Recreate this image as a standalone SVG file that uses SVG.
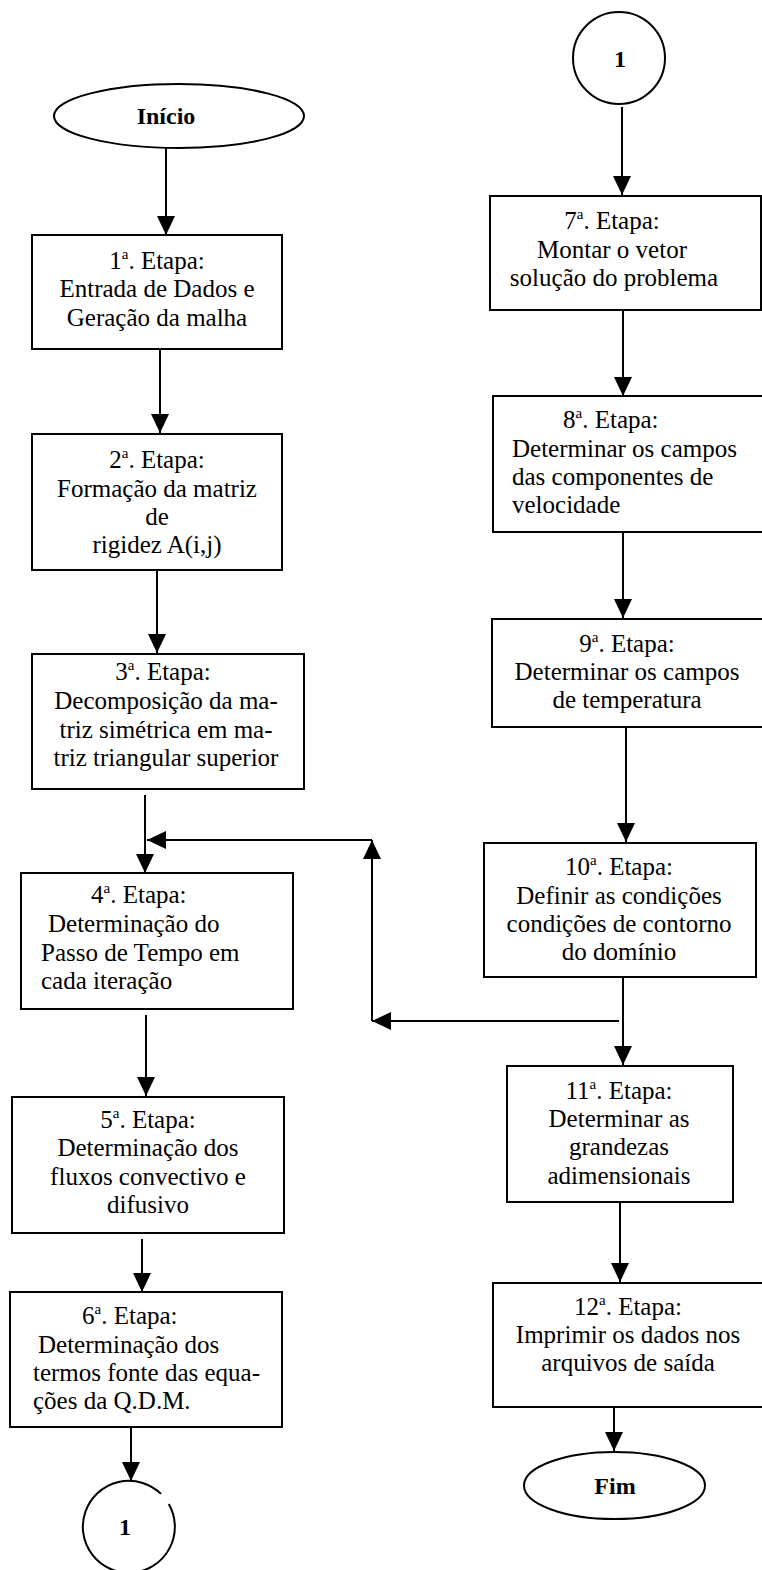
<svg xmlns="http://www.w3.org/2000/svg" width="762" height="1570" viewBox="0 0 762 1570">
<style>
.b{fill:#fff;stroke:#000;stroke-width:2}
.t{font-family:"Liberation Serif","Times New Roman",serif;font-size:25px;fill:#000}
.c{text-anchor:middle}
.bd{font-family:"Liberation Serif","Times New Roman",serif;font-size:24px;font-weight:bold;fill:#000;text-anchor:middle}
.s{font-size:15px}
.l{stroke:#000;stroke-width:2;fill:none;marker-end:url(#ah)}
</style>
<defs>
<marker id="ah" viewBox="0 0 19 18" refX="19" refY="9" markerWidth="19" markerHeight="18" markerUnits="userSpaceOnUse" orient="auto">
<path d="M0,0 L19,9 L0,18 z" fill="#000"/>
</marker>
</defs>
<rect width="762" height="1570" fill="#fff"/>
<g id="connectors">
<line class="l" x1="166" y1="135" x2="166" y2="235"/>
<line class="l" x1="160" y1="345" x2="160" y2="433"/>
<line class="l" x1="157" y1="565" x2="157" y2="653"/>
<line class="l" x1="145" y1="795" x2="145" y2="873"/>
<line class="l" x1="146" y1="1015" x2="146" y2="1096"/>
<line class="l" x1="142" y1="1239" x2="142" y2="1292"/>
<line class="l" x1="131" y1="1427" x2="131" y2="1481"/>
<line class="l" x1="622" y1="107" x2="622" y2="195"/>
<line class="l" x1="623" y1="310" x2="623" y2="396"/>
<line class="l" x1="623" y1="532" x2="623" y2="618"/>
<line class="l" x1="626" y1="727" x2="626" y2="842"/>
<line class="l" x1="623" y1="977" x2="623" y2="1065"/>
<line class="l" x1="619" y1="1021" x2="372" y2="1021"/>
<line class="l" x1="372" y1="1021" x2="372" y2="840"/>
<line class="l" x1="372" y1="840" x2="147" y2="840"/>
<line class="l" x1="620" y1="1190" x2="620" y2="1282"/>
<line class="l" x1="614" y1="1407" x2="614" y2="1451"/>
</g>
<g id="inicio">
<ellipse class="b" cx="179" cy="116" rx="125" ry="32"/>
<text class="bd" x="166" y="124">Início</text>
</g>
<g id="etapa1">
<rect class="b" x="32" y="235" width="250" height="114"/>
<text class="t c" x="157" y="269">1<tspan class="s" dy="-10">a</tspan><tspan dy="10">. Etapa:</tspan></text>
<text class="t c" x="157" y="297">Entrada de Dados e</text>
<text class="t c" x="157" y="326">Geração da malha</text>
</g>
<g id="etapa2">
<rect class="b" x="32" y="434" width="250" height="136"/>
<text class="t c" x="157" y="468">2<tspan class="s" dy="-10">a</tspan><tspan dy="10">. Etapa:</tspan></text>
<text class="t c" x="157" y="497">Formação da matriz</text>
<text class="t c" x="157" y="525">de</text>
<text class="t c" x="157" y="553">rigidez A(i,j)</text>
</g>
<g id="etapa3">
<rect class="b" x="32" y="654" width="272" height="135"/>
<text class="t c" x="163" y="680">3<tspan class="s" dy="-10">a</tspan><tspan dy="10">. Etapa:</tspan></text>
<text class="t c" x="166" y="709">Decomposição da ma-</text>
<text class="t c" x="166" y="738">triz simétrica em ma-</text>
<text class="t c" x="166" y="766">triz triangular superior</text>
</g>
<g id="etapa4">
<rect class="b" x="21" y="873" width="272" height="136"/>
<text class="t" x="91" y="903">4<tspan class="s" dy="-10">a</tspan><tspan dy="10">. Etapa:</tspan></text>
<text class="t" x="48" y="932">Determinação do</text>
<text class="t" x="41" y="961">Passo de Tempo em</text>
<text class="t" x="41" y="989">cada iteração</text>
</g>
<g id="etapa5">
<rect class="b" x="12" y="1097" width="272" height="136"/>
<text class="t c" x="148" y="1128">5<tspan class="s" dy="-10">a</tspan><tspan dy="10">. Etapa:</tspan></text>
<text class="t c" x="148" y="1156">Determinação dos</text>
<text class="t c" x="148" y="1185">fluxos convectivo e</text>
<text class="t c" x="148" y="1213">difusivo</text>
</g>
<g id="etapa6">
<rect class="b" x="10" y="1292" width="272" height="135"/>
<text class="t" x="82" y="1324">6<tspan class="s" dy="-10">a</tspan><tspan dy="10">. Etapa:</tspan></text>
<text class="t" x="38" y="1353">Determinação dos</text>
<text class="t" x="33" y="1381">termos fonte das equa-</text>
<text class="t" x="33" y="1409">ções da Q.D.M.</text>
</g>
<g id="conector1-saida">
<path class="b" fill="none" d="M161,1493.9 A46,46 0 1 0 168.8,1504"/>
<text class="bd" x="125" y="1535">1</text>
</g>
<g id="conector1-entrada">
<circle class="b" cx="619" cy="58" r="46"/>
<text class="bd" x="620" y="67">1</text>
</g>
<g id="etapa7">
<rect class="b" x="490" y="196" width="271" height="114"/>
<text class="t c" x="612" y="229">7<tspan class="s" dy="-10">a</tspan><tspan dy="10">. Etapa:</tspan></text>
<text class="t c" x="612" y="258">Montar o vetor</text>
<text class="t c" x="614" y="286">solução do problema</text>
</g>
<g id="etapa8">
<rect class="b" x="493" y="396" width="275" height="136"/>
<text class="t" x="563" y="428">8<tspan class="s" dy="-10">a</tspan><tspan dy="10">. Etapa:</tspan></text>
<text class="t" x="512" y="457">Determinar os campos</text>
<text class="t" x="512" y="485">das componentes de</text>
<text class="t" x="512" y="513">velocidade</text>
</g>
<g id="etapa9">
<rect class="b" x="492" y="619" width="275" height="108"/>
<text class="t c" x="627" y="652">9<tspan class="s" dy="-10">a</tspan><tspan dy="10">. Etapa:</tspan></text>
<text class="t c" x="627" y="680">Determinar os campos</text>
<text class="t c" x="627" y="708">de temperatura</text>
</g>
<g id="etapa10">
<rect class="b" x="484" y="843" width="272" height="134"/>
<text class="t c" x="619" y="875">10<tspan class="s" dy="-10">a</tspan><tspan dy="10">. Etapa:</tspan></text>
<text class="t c" x="619" y="904">Definir as condições</text>
<text class="t c" x="619" y="932">condições de contorno</text>
<text class="t c" x="619" y="960">do domínio</text>
</g>
<g id="etapa11">
<rect class="b" x="507" y="1066" width="226" height="136"/>
<text class="t c" x="619" y="1099">11<tspan class="s" dy="-10">a</tspan><tspan dy="10">. Etapa:</tspan></text>
<text class="t c" x="619" y="1127">Determinar as</text>
<text class="t c" x="619" y="1155">grandezas</text>
<text class="t c" x="619" y="1184">adimensionais</text>
</g>
<g id="etapa12">
<rect class="b" x="493" y="1283" width="275" height="124"/>
<text class="t c" x="628" y="1315">12<tspan class="s" dy="-10">a</tspan><tspan dy="10">. Etapa:</tspan></text>
<text class="t c" x="628" y="1343">Imprimir os dados nos</text>
<text class="t c" x="628" y="1371">arquivos de saída</text>
</g>
<g id="fim">
<ellipse class="b" cx="614.5" cy="1485.5" rx="90.5" ry="33.5"/>
<text class="bd" x="615" y="1494">Fim</text>
</g>
</svg>
